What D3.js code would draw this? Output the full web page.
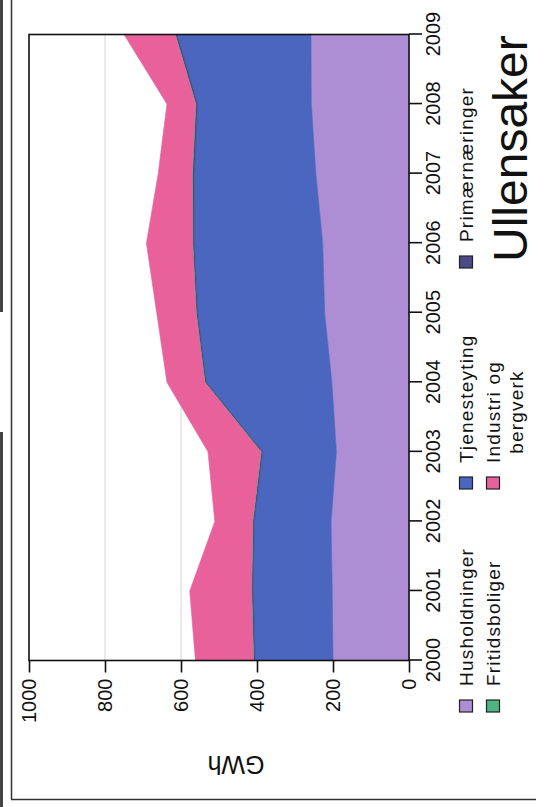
<!DOCTYPE html>
<html><head><meta charset="utf-8">
<script src="https://cdn.jsdelivr.net/npm/d3@7"></script>
<style>
body{margin:0;background:#fff}
svg{display:block}
text{font-family:"Liberation Sans",Arial,sans-serif;fill:#111}
</style>
</head><body>
<svg id="chart" width="536" height="807"></svg>
<script>
// ---- data ----
const years = [2000, 2001, 2002, 2003, 2004, 2005, 2006, 2007, 2008, 2009];
const husholdninger = [200, 202, 205, 191, 203, 222, 227, 245, 257, 258];
const tjenesteyting = [205, 208, 202, 194, 330, 334, 338, 320, 299, 352];
const primaernaeringer = [4, 4, 4, 4, 4, 4, 4, 5, 5, 5];
const fritidsboliger = [1, 1, 1, 1, 1, 1, 1, 1, 1, 1];
const industri = [152, 162, 99, 139, 99, 103, 121, 89, 75, 134];
const valueTicks = [0, 200, 400, 600, 800, 1000];
const seriesNames = ["Husholdninger", "Tjenesteyting", "Primærnæringer", "Fritidsboliger", "Industri og bergverk"];
const seriesColors = ["#AD8ED5", "#4A66BF", "#4B4A86", "#4DB482", "#E8619A"];
const title = "Ullensaker";
const axisTitle = "GWh";

const seriesValues = [husholdninger, tjenesteyting, primaernaeringer, fritidsboliger, industri];
const rows = years.map((yr, i) => {
  const r = {year: yr};
  seriesNames.forEach((n, k) => r[n] = seriesValues[k][i]);
  return r;
});

const svg = d3.select("#chart");

// outer frame (scan border)
svg.append("line").attr("x1", 11.5).attr("x2", 11.5).attr("y1", 0).attr("y2", 799.5)
  .attr("stroke", "#333").attr("stroke-width", 1.5);
svg.append("line").attr("x1", 11).attr("x2", 536).attr("y1", 799.5).attr("y2", 799.5)
  .attr("stroke", "#333").attr("stroke-width", 1.5);
svg.append("line").attr("x1", 1.5).attr("x2", 1.5).attr("y1", 0).attr("y2", 312)
  .attr("stroke", "#444").attr("stroke-width", 3);
svg.append("line").attr("x1", 1.5).attr("x2", 1.5).attr("y1", 432).attr("y2", 807)
  .attr("stroke", "#444").attr("stroke-width", 3);

// chart drawn in its own (unrotated) frame, then turned a quarter turn counter-clockwise
const W = 807, H = 536;
const g = svg.append("g").attr("transform", `translate(0,${W}) rotate(-90)`);

const x = d3.scalePoint().domain(years).range([146.5, 772.5]);
const y = d3.scaleLinear().domain([0, 1000]).range([409, 29]);

// gridlines
g.append("g").selectAll("line").data(valueTicks.filter(t => t > 0 && t < 1000)).join("line")
  .attr("x1", x.range()[0]).attr("x2", x.range()[1])
  .attr("y1", d => y(d)).attr("y2", d => y(d))
  .attr("stroke", "#d4d4d4").attr("stroke-width", 1);

// stacked areas
const stack = d3.stack().keys(seriesNames);
const layers = stack(rows);
const area = d3.area()
  .x(d => x(d.data.year))
  .y0(d => y(d[0]))
  .y1(d => y(d[1]));
g.append("g").selectAll("path").data(layers).join("path")
  .attr("d", area)
  .attr("fill", (d, i) => seriesColors[i])
  .attr("stroke", (d, i) => seriesColors[i])
  .attr("stroke-width", 0.6);

// plot border
g.append("rect")
  .attr("x", x.range()[0]).attr("y", y(1000))
  .attr("width", x.range()[1] - x.range()[0]).attr("height", y(0) - y(1000))
  .attr("fill", "none").attr("stroke", "#111").attr("stroke-width", 1.6);

// value axis (left in own frame)
const yAxis = d3.axisLeft(y).tickValues(valueTicks).tickSize(12).tickPadding(6).tickFormat(d3.format("d"));
const ya = g.append("g").attr("transform", `translate(${x.range()[0]},0)`).call(yAxis);
ya.select(".domain").remove();
ya.selectAll(".tick line").attr("stroke", "#111").attr("stroke-width", 1.6);
ya.selectAll(".tick text").attr("font-size", 20).attr("fill", "#111")
  .attr("font-family", '"Liberation Sans", Arial, sans-serif');

// category axis (bottom in own frame)
const xAxis = d3.axisBottom(x).tickSize(13).tickPadding(4);
const xa = g.append("g").attr("transform", `translate(0,${y(0)})`).call(xAxis);
xa.select(".domain").remove();
xa.selectAll(".tick line").attr("stroke", "#111").attr("stroke-width", 1.6);
xa.selectAll(".tick text").attr("font-size", 20).attr("fill", "#111")
  .attr("font-family", '"Liberation Sans", Arial, sans-serif');

// axis title
g.append("text").attr("transform", `translate(42,236) rotate(-90)`)
  .attr("text-anchor", "middle").attr("dominant-baseline", "central")
  .attr("font-size", 25).text(axisTitle);

// legend
const legendItems = [
  {name: "Husholdninger", lines: ["Husholdninger"], col: 0, row: 0, color: seriesColors[0]},
  {name: "Fritidsboliger", lines: ["Fritidsboliger"], col: 0, row: 1, color: seriesColors[3]},
  {name: "Tjenesteyting", lines: ["Tjenesteyting"], col: 1, row: 0, color: seriesColors[1]},
  {name: "Industri og bergverk", lines: ["Industri og", "bergverk"], col: 1, row: 1, color: seriesColors[4]},
  {name: "Primærnæringer", lines: ["Primærnæringer"], col: 2, row: 0, color: seriesColors[2]}
];
const colU = [101, 324, 545];
const rowV = [466, 493];
const lg = g.append("g");
const fs = 19, ls = 1.2;
legendItems.forEach(it => {
  const cu = colU[it.col], cv = rowV[it.row];
  lg.append("rect").attr("x", cu - 6).attr("y", cv - 6.5).attr("width", 12).attr("height", 13)
    .attr("fill", it.color).attr("stroke", "#222").attr("stroke-width", 1.2);
  const t = lg.append("text").attr("font-size", fs).attr("letter-spacing", ls)
    .attr("x", cu + 20).attr("y", cv + 7).text(it.lines[0]);
  if (it.lines.length > 1) {
    const w = t.node().getComputedTextLength();
    lg.append("text").attr("font-size", fs).attr("letter-spacing", ls)
      .attr("x", cu + 20 + w / 2).attr("y", cv + 30).attr("text-anchor", "middle").text(it.lines[1]);
  }
});

// title
g.append("text").attr("x", 545).attr("y", 527).attr("font-size", 48).attr("fill", "#222")
  .text(title);
</script>
</body></html>
